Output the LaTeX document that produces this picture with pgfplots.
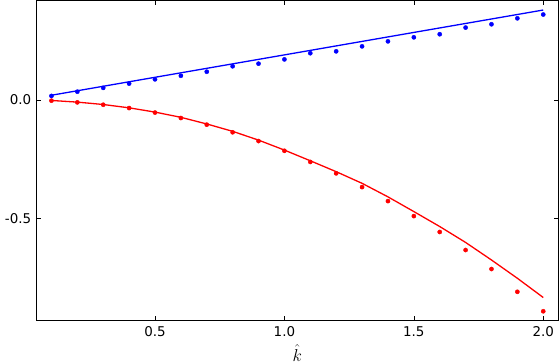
\documentclass[border=0pt]{standalone}
\usepackage{fontspec}
\setmainfont{DejaVu Sans}
\usepackage{pgfplots}
\pgfplotsset{compat=1.18}
\begin{document}
\begin{tikzpicture}
\begin{axis}[
  scale only axis,
  width=521.3bp, height=319.3bp,
  xmin=0.043, xmax=2.057,
  ymin=-0.928, ymax=0.417,
  xtick={0.5,1.0,1.5,2.0},
  ytick={-0.5,0.0},
  xticklabels={0.5,1.0,1.5,2.0},
  yticklabels={-0.5,0.0},
  tick align=inside,
  tick pos=both,
  major tick length=4bp,
  tick style={black, line width=0.5bp},
  axis line style={black, line width=1bp},
  ticklabel style={font=\fontsize{13.5}{15}\selectfont},
  xticklabel style={yshift=-3bp},
  yticklabel style={xshift=-2bp},
  xlabel={$\hat{k}$},
  xlabel style={font=\fontsize{16}{18}\selectfont, yshift=-1bp},
  clip=false,
]
\addplot[blue, line width=1.3bp] coordinates {
(0.1,0.020) (0.5,0.0956) (1.0,0.190) (1.5,0.2846) (2.0,0.379)};
\addplot[only marks, blue, mark=*, mark size=2.1bp, mark options={draw=none, fill=blue}] coordinates {
(0.1,0.017) (0.2,0.035) (0.3,0.051) (0.4,0.069) (0.5,0.087)
(0.6,0.102) (0.7,0.119) (0.8,0.142) (0.9,0.153) (1.0,0.171)
(1.1,0.197) (1.2,0.205) (1.3,0.226) (1.4,0.247) (1.5,0.264)
(1.6,0.277) (1.7,0.305) (1.8,0.319) (1.9,0.344) (2.0,0.360)};
\addplot[red, line width=1.3bp] coordinates {
(0.1,-0.002) (0.2,-0.009) (0.3,-0.019) (0.4,-0.033) (0.5,-0.051)
(0.6,-0.073) (0.7,-0.101) (0.8,-0.132) (0.9,-0.169) (1.0,-0.211)
(1.1,-0.256) (1.2,-0.302) (1.3,-0.351) (1.4,-0.408) (1.5,-0.470)
(1.6,-0.533) (1.7,-0.600) (1.8,-0.674) (1.9,-0.751) (2.0,-0.832)};
\addplot[only marks, red, mark=*, mark size=2.1bp, mark options={draw=none, fill=red}] coordinates {
(0.1,-0.003) (0.2,-0.010) (0.3,-0.020) (0.4,-0.034) (0.5,-0.053)
(0.6,-0.076) (0.7,-0.104) (0.8,-0.136) (0.9,-0.173) (1.0,-0.214)
(1.1,-0.261) (1.2,-0.309) (1.3,-0.367) (1.4,-0.426) (1.5,-0.489)
(1.6,-0.556) (1.7,-0.632) (1.8,-0.712) (1.9,-0.808) (2.0,-0.890)};
\coordinate (bl) at (rel axis cs:0,0);
\coordinate (tr) at (rel axis cs:1,1);
\end{axis}
\pgfresetboundingbox
\path ([shift={(-36.7bp,-43.7bp)}]bl) rectangle ([shift={(2bp,1bp)}]tr);
\end{tikzpicture}
\end{document}
